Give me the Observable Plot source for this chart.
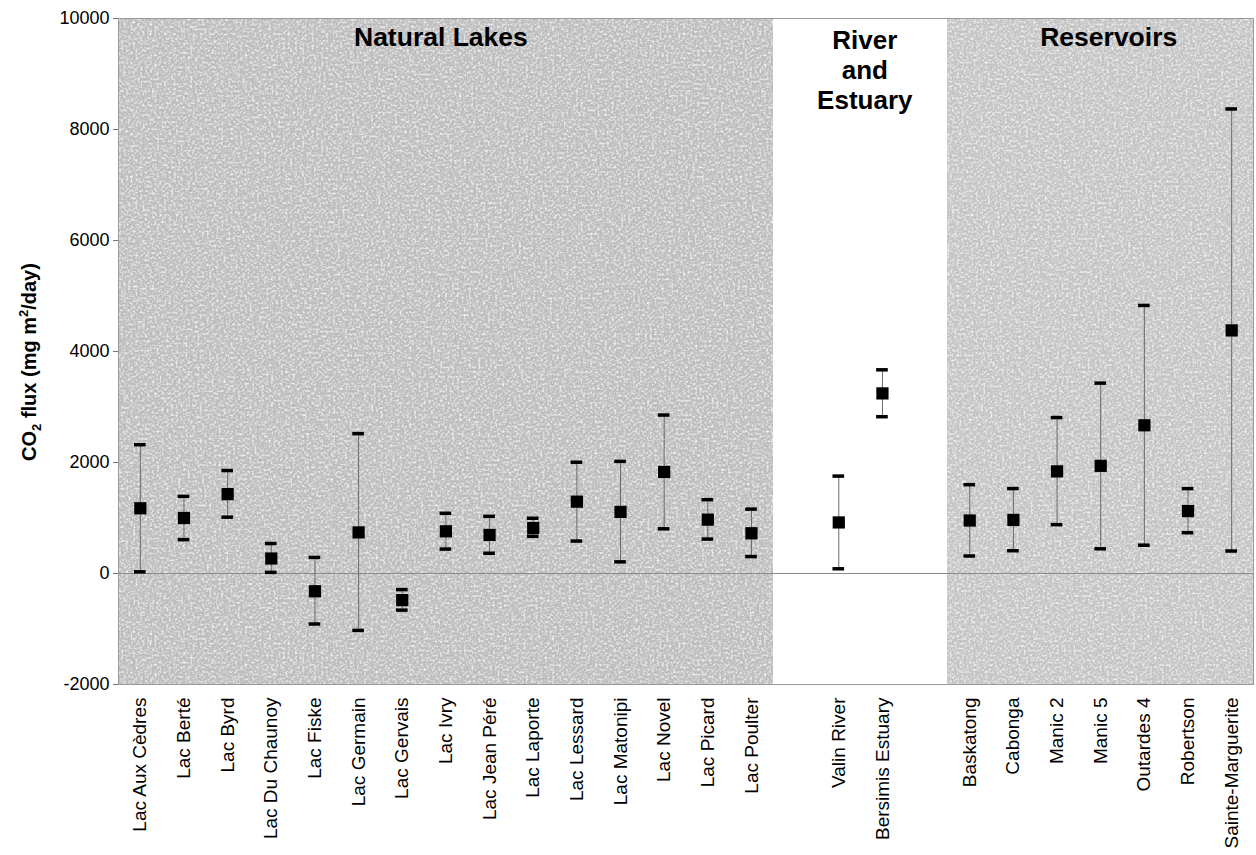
<!DOCTYPE html>
<html>
<head>
<meta charset="utf-8">
<script src="https://cdn.jsdelivr.net/npm/d3@7"></script>
<script src="https://cdn.jsdelivr.net/npm/@observablehq/plot@0.6"></script>
<style>
  body { margin: 0; background: #ffffff; }
  #chart { width: 1256px; height: 855px; }
</style>
</head>
<body>
<div id="chart"></div>
<script>
// ---- data ----
const names = [
  "Lac Aux Cèdres", "Lac Berté", "Lac Byrd", "Lac Du Chaunoy", "Lac Fiske",
  "Lac Germain", "Lac Gervais", "Lac Ivry", "Lac Jean Péré", "Lac Laporte",
  "Lac Lessard", "Lac Matonipi", "Lac Novel", "Lac Picard", "Lac Poulter",
  "Valin River", "Bersimis Estuary",
  "Baskatong", "Cabonga", "Manic 2", "Manic 5", "Outardes 4", "Robertson", "Sainte-Marguerite"
];
const groups = [
  "Natural Lakes", "Natural Lakes", "Natural Lakes", "Natural Lakes", "Natural Lakes",
  "Natural Lakes", "Natural Lakes", "Natural Lakes", "Natural Lakes", "Natural Lakes",
  "Natural Lakes", "Natural Lakes", "Natural Lakes", "Natural Lakes", "Natural Lakes",
  "River and Estuary", "River and Estuary",
  "Reservoirs", "Reservoirs", "Reservoirs", "Reservoirs", "Reservoirs", "Reservoirs", "Reservoirs"
];
const means = [1175, 1000, 1430, 270, -320, 740, -480, 760, 695, 820, 1295, 1110, 1830, 970, 725,
               920, 3245,
               955, 965, 1840, 1940, 2670, 1125, 4380];
const lows  = [30, 610, 1015, 20, -910, -1025, -660, 440, 365, 670, 585, 210, 805, 620, 305,
               85, 2825,
               315, 410, 880, 445, 510, 735, 405];
const highs = [2320, 1390, 1855, 540, 290, 2520, -290, 1085, 1030, 995, 2005, 2020, 2855, 1330, 1160,
               1755, 3670,
               1600, 1530, 2810, 3430, 4830, 1530, 8370];
const groupNames = ["Natural Lakes", "River and Estuary", "Reservoirs"];
const groupTitles = ["Natural Lakes", "River\nand\nEstuary", "Reservoirs"];
const yTicks = [-2000, 0, 2000, 4000, 6000, 8000, 10000];
const yDomain = [-2000, 10000];

// ---- build tables ----
const data = names.map((name, i) => ({name, group: groups[i], mean: means[i], low: lows[i], high: highs[i]}));

// x slots: one empty slot on each side of the river/estuary group
const slots = [];
const slotGroup = new Map();
let gapCount = 0;
names.forEach((n, i) => {
  if (i > 0 && groups[i] !== groups[i - 1]) {
    const g = "gap" + (++gapCount);
    slots.push(g);
    slotGroup.set(g, "River and Estuary");
  }
  slots.push(n);
  slotGroup.set(n, groups[i]);
});

const font = "'Liberation Sans', Arial, Helvetica, sans-serif";
const WHITE = "#ffffff";

const chart = Plot.plot({
  width: 1256,
  height: 855,
  marginLeft: 118,
  marginRight: 3,
  marginTop: 18,
  marginBottom: 171,
  style: { fontFamily: font, background: "#ffffff", color: "#000" },
  x: { type: "band", domain: slots, padding: 0, round: false, axis: null },
  y: { domain: yDomain, axis: null },
  color: { domain: groupNames, range: ["#bebebe", WHITE, "#c5c5c5"] },
  marks: [
    Plot.barY(slots, {
      x: d => d, y1: yDomain[0], y2: yDomain[1],
      fill: d => slotGroup.get(d), inset: 0, shapeRendering: "crispEdges"
    }),
    Plot.ruleY([0], { stroke: "#8a8a8a", strokeWidth: 1 }),
    Plot.frame({ stroke: "#9a9a9a", strokeWidth: 1 }),
    Plot.axisY({
      ticks: yTicks, tickFormat: d => String(d), tickSize: 5, tickPadding: 4,
      fontSize: 18, stroke: "#777", fill: "#000", label: null
    }),
    Plot.axisX({
      tickSize: 0, tickRotate: -90, tickPadding: 13, fontSize: 19, fill: "#000",
      tickFormat: d => d.startsWith("gap") ? "" : d, label: null
    }),
    Plot.ruleX(data, { x: "name", y1: "low", y2: "high", stroke: "#6a6a6a", strokeWidth: 1 }),
    Plot.tickY(data, { x: "name", y: "high", stroke: "#000", strokeWidth: 3.5, insetLeft: 16, insetRight: 16 }),
    Plot.tickY(data, { x: "name", y: "low", stroke: "#000", strokeWidth: 3.5, insetLeft: 16, insetRight: 16 }),
    Plot.dot(data, { x: "name", y: "mean", symbol: "square", r: 6.9, fill: "#000", stroke: null }),
    Plot.text([0], { x: () => "Lac Ivry", y: yDomain[1], text: () => groupTitles[0], dx: -5, dy: 9,
      lineAnchor: "top", fontSize: 26.5, fontWeight: "bold", fill: "#000" }),
    Plot.text([1], { x: () => "Valin River", y: yDomain[1], text: () => groupTitles[1], dx: 26, dy: 9,
      lineAnchor: "top", lineHeight: 1.15, fontSize: 26, fontWeight: "bold", fill: "#000" }),
    Plot.text([2], { x: () => "Manic 5", y: yDomain[1], text: () => groupTitles[2], dx: 8, dy: 9,
      lineAnchor: "top", fontSize: 26.5, fontWeight: "bold", fill: "#000" })
  ]
});

const svg = d3.select(chart);

// grainy paper texture on the shaded (non-white) bands
const defs = svg.insert("defs", ":first-child");
const f = defs.append("filter").attr("id", "grain")
  .attr("filterUnits", "userSpaceOnUse")
  .attr("x", 0).attr("y", 0).attr("width", 1256).attr("height", 855);
f.append("feTurbulence").attr("type", "fractalNoise").attr("baseFrequency", 0.42)
  .attr("numOctaves", 2).attr("seed", 11).attr("result", "noise");
f.append("feColorMatrix").attr("in", "noise").attr("type", "matrix")
  .attr("values", "0 0 0 0 1  0 0 0 0 1  0 0 0 0 1  2.0 0 0 0 -0.9").attr("result", "light");
f.append("feColorMatrix").attr("in", "noise").attr("type", "matrix")
  .attr("values", "0 0 0 0 0.4  0 0 0 0 0.4  0 0 0 0 0.4  -1.1 0 0 0 0.38").attr("result", "dark");
f.append("feComposite").attr("in", "light").attr("in2", "SourceGraphic").attr("operator", "in").attr("result", "lightIn");
f.append("feComposite").attr("in", "dark").attr("in2", "SourceGraphic").attr("operator", "in").attr("result", "darkIn");
const merge = f.append("feMerge");
merge.append("feMergeNode").attr("in", "SourceGraphic");
merge.append("feMergeNode").attr("in", "darkIn");
merge.append("feMergeNode").attr("in", "lightIn");
svg.selectAll("g[aria-label='bar'] rect")
  .filter(function () { return (this.getAttribute("fill") || "").toLowerCase() !== WHITE; })
  .attr("filter", "url(#grain)");

// y-axis title with subscript / superscript
const t = svg.append("text")
  .attr("transform", "translate(36,362) rotate(-90)")
  .attr("text-anchor", "middle")
  .attr("font-family", font)
  .attr("font-size", 20)
  .attr("font-weight", "bold")
  .attr("fill", "#000");
t.append("tspan").text("CO");
t.append("tspan").attr("font-size", 13).attr("dy", 5).text("2");
t.append("tspan").attr("dy", -5).text(" flux (mg m");
t.append("tspan").attr("font-size", 13).attr("dy", -8).text("2");
t.append("tspan").attr("dy", 8).text("/day)");

document.getElementById("chart").appendChild(chart);
</script>
</body>
</html>
